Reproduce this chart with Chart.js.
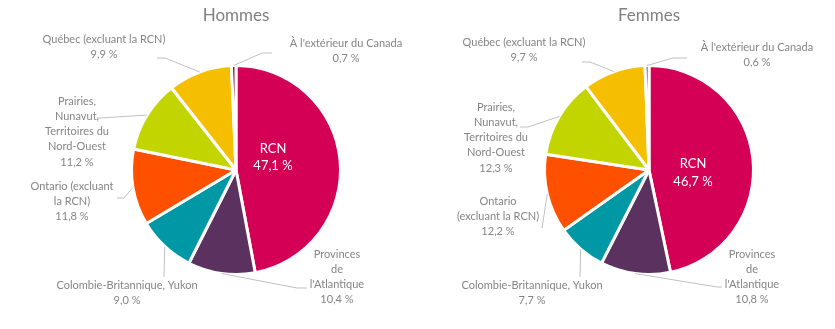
<!DOCTYPE html>
<html lang="fr">
<head>
<meta charset="UTF-8">
<title>Hommes / Femmes</title>
<style>
  body { margin: 0; background: #fff; }
  .wrap { position: absolute; top: 0; height: 329px; }
  #w1 { left: 0; width: 417px; }
  #w2 { left: 417px; width: 418px; }
</style>
</head>
<body>
<div class="wrap" id="w1"><canvas id="hommesChart"></canvas></div>
<div class="wrap" id="w2"><canvas id="femmesChart"></canvas></div>
<script src="https://cdn.jsdelivr.net/npm/chart.js@4.4.1/dist/chart.umd.min.js"></script>
<script>
const categories = ['RCN', "Provinces de l'Atlantique", 'Colombie-Britannique, Yukon',
  'Ontario (excluant la RCN)', 'Prairies, Nunavut, Territoires du Nord-Ouest',
  'Québec (excluant la RCN)', "À l'extérieur du Canada"];
const hommes = [47.1, 10.4, 9.0, 11.8, 11.2, 9.9, 0.7];
const femmes = [46.7, 10.8, 7.7, 12.2, 12.3, 9.7, 0.6];
const colors = ['#d40055', '#5b3160', '#0098a5', '#ff5000', '#c3d500', '#f5bf00', '#8a1640'];

// label placement, offsets from the pie centre
const hommesLabels = [
  {lines: ['RCN'], x: 37, y: -21, step: 17, inside: true},
  {lines: ['Provinces', 'de', "l'Atlantique"], x: 101, y: 84, ex: 61, ey: 118, tx: 71},
  {lines: ['Colombie-Britannique, Yukon'], x: -109, y: 115, ex: -72, ey: 107},
  {lines: ['Ontario (excluant', 'la RCN)'], x: -164, y: 16, ex: -112, ey: 28, tx: -119},
  {lines: ['Prairies,', 'Nunavut,', 'Territoires du', 'Nord-Ouest'], x: -159, y: -69, ex: -136, ey: -52, tx: -139},
  {lines: ['Québec (excluant la RCN)'], x: -132, y: -131, ex: -71, ey: -112, tx: -79},
  {lines: ["À l'extérieur du Canada"], x: 110, y: -127, ex: 26, ey: -117, tx: 36}
];
const femmesLabels = [
  {lines: ['RCN'], x: 44, y: -6, step: 18, inside: true},
  {lines: ['Provinces', 'de', "l'Atlantique"], x: 103, y: 84, ex: 68, ey: 117, tx: 73},
  {lines: ['Colombie-Britannique, Yukon'], x: -117, y: 115, ex: -69, ey: 107},
  {lines: ['Ontario', '(excluant la RCN)'], x: -151, y: 31, ex: -107, ey: 58},
  {lines: ['Prairies,', 'Nunavut,', 'Territoires du', 'Nord-Ouest'], x: -153, y: -63, ex: -121, ey: -43, tx: -129},
  {lines: ['Québec (excluant la RCN)'], x: -125, y: -128, ex: -59, ey: -108, tx: -67},
  {lines: ["À l'extérieur du Canada"], x: 108, y: -123, ex: 24, ey: -112, tx: 38}
];

const FONT = 'Lato, "Open Sans", sans-serif';
const fmt = v => v.toFixed(1).replace('.', ',') + ' %';

const pieLabels = {
  id: 'pieLabels',
  afterDraw(chart, args, opts) {
    const ctx = chart.ctx;
    const meta = chart.getDatasetMeta(0);
    const values = chart.data.datasets[0].data;
    const cx = meta.data[0].x, cy = meta.data[0].y;
    ctx.save();
    // title
    ctx.fillStyle = '#808080';
    ctx.font = '17px ' + FONT;
    ctx.textAlign = 'center';
    ctx.textBaseline = 'middle';
    ctx.fillText(opts.title, cx, 16);

    opts.layout.forEach((lab, i) => {
      const arc = meta.data[i];
      const mid = (arc.startAngle + arc.endAngle) / 2;
      const lines = lab.lines.concat([fmt(values[i])]);
      if (lab.inside) {
        ctx.fillStyle = '#ffffff';
        ctx.font = '13px ' + FONT;
      } else {
        ctx.fillStyle = '#858585';
        ctx.font = '11px ' + FONT;
        // leader line
        ctx.strokeStyle = '#c0c0c0';
        ctx.lineWidth = 1;
        ctx.beginPath();
        ctx.moveTo(cx + Math.cos(mid) * arc.outerRadius, cy + Math.sin(mid) * arc.outerRadius);
        ctx.lineTo(cx + lab.ex, cy + lab.ey);
        if (lab.tx !== undefined) ctx.lineTo(cx + lab.tx, cy + lab.ey);
        ctx.stroke();
      }
      const step = lab.step || 15.3;
      lines.forEach((t, k) => ctx.fillText(t, cx + lab.x, cy + lab.y + k * step));
    });
    ctx.restore();
  }
};

function makePie(id, values, title, layout, pad) {
  return new Chart(document.getElementById(id), {
    type: 'pie',
    data: {
      labels: categories,
      datasets: [{
        data: values,
        backgroundColor: colors,
        borderColor: '#ffffff',
        borderWidth: 3,
        hoverOffset: 0
      }]
    },
    options: {
      responsive: true,
      maintainAspectRatio: false,
      animation: false,
      layout: {padding: pad},
      plugins: {
        legend: {display: false},
        tooltip: {enabled: false},
        pieLabels: {title: title, layout: layout}
      }
    },
    plugins: [pieLabels]
  });
}

makePie('hommesChart', hommes, 'Hommes', hommesLabels, {top: 64, bottom: 53, left: 130, right: 75});
makePie('femmesChart', femmes, 'Femmes', femmesLabels, {top: 64, bottom: 53, left: 126, right: 80});
</script>
</body>
</html>
